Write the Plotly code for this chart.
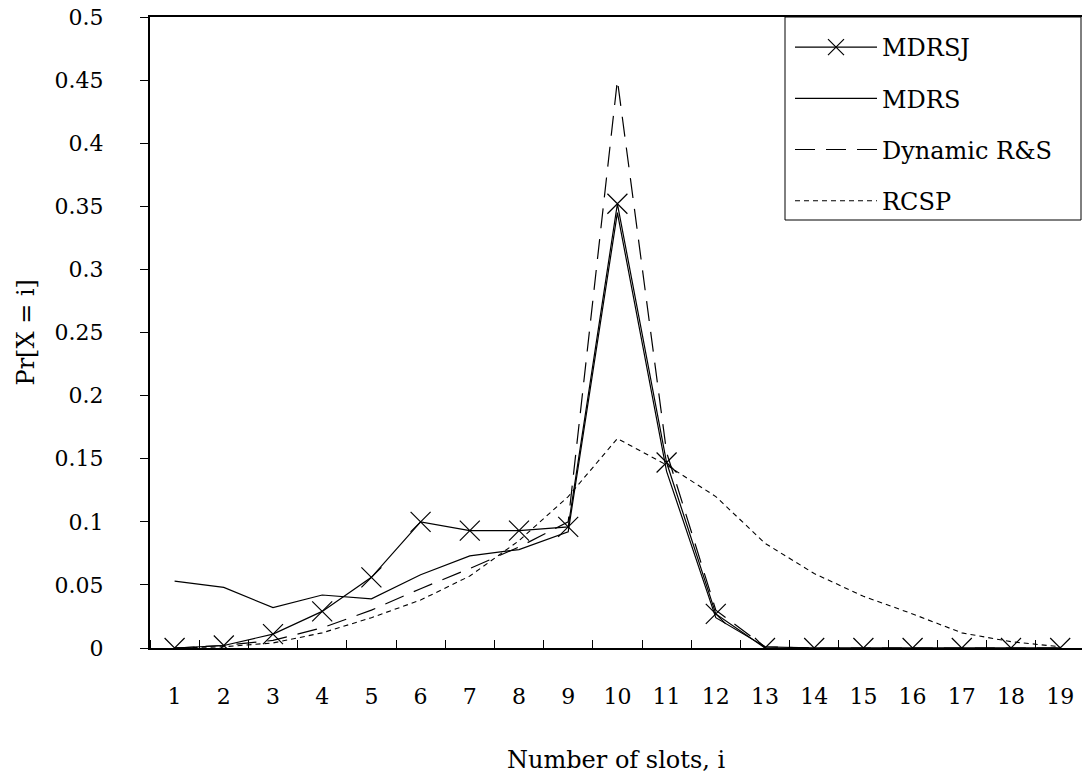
import plotly.graph_objects as go

slots = list(range(1, 20))
mdrsj = [0.0, 0.002, 0.011, 0.029, 0.056, 0.100, 0.093, 0.093, 0.096, 0.352, 0.147, 0.027, 0.0,
         0.0, 0.0, 0.0, 0.0, 0.0, 0.0]
mdrs = [0.053, 0.048, 0.032, 0.042, 0.039, 0.058, 0.073, 0.078, 0.092, 0.345, 0.140, 0.024, 0.001,
        0.0, 0.0, 0.0, 0.0, 0.0, 0.0]
dynamic = [0.0, 0.002, 0.006, 0.016, 0.030, 0.047, 0.063, 0.080, 0.100, 0.450, 0.155, 0.030, 0.001,
           0.0, 0.0, 0.0, 0.0, 0.0, 0.0]
rcsp = [0.0, 0.001, 0.004, 0.012, 0.024, 0.038, 0.057, 0.085, 0.120, 0.166, 0.145, 0.120, 0.083,
        0.059, 0.041, 0.027, 0.012, 0.005, 0.001]
ytick_vals = [0, 0.05, 0.1, 0.15, 0.2, 0.25, 0.3, 0.35, 0.4, 0.45, 0.5]
ytick_text = ["0", "0.05", "0.1", "0.15", "0.2", "0.25", "0.3", "0.35", "0.4", "0.45", "0.5"]

FONT = "DejaVu Serif"
FS = 24
TFS = 22

fig = go.Figure()
fig.add_trace(go.Scatter(x=slots, y=mdrsj, name="MDRSJ", mode="lines+markers",
                         line=dict(color="black", width=1.2),
                         marker=dict(symbol="x-thin-open", size=20,
                                     line=dict(color="black", width=1.2)),
                         legendgroup="a"))
fig.add_trace(go.Scatter(x=slots, y=mdrs, name="MDRS", mode="lines",
                         line=dict(color="black", width=1.2), legendgroup="b"))
fig.add_trace(go.Scatter(x=slots, y=dynamic, name="Dynamic R&S", mode="lines",
                         line=dict(color="black", width=1.2, dash="20px,11px"),
                         legendgroup="c"))
fig.add_trace(go.Scatter(x=slots, y=rcsp, name="RCSP", mode="lines",
                         line=dict(color="black", width=1.1, dash="5px,4px"),
                         legendgroup="d"))

PW, PH = 932, 631

fig.update_layout(
    width=1082, height=784,
    margin=dict(l=150, r=0, t=17, b=136),
    paper_bgcolor="white", plot_bgcolor="white",
    font=dict(family=FONT, size=FS, color="black"),
    showlegend=True,
    legend=dict(x=(790 - 150) / PW, y=1.0 - 8 / PH, xanchor="left", yanchor="top",
                bgcolor="rgba(0,0,0,0)", borderwidth=0,
                font=dict(family=FONT, size=FS, color="black"),
                tracegroupgap=17, traceorder="grouped", itemwidth=82),
    xaxis=dict(range=[0.5, 0.5 + PW / 49.2], tickmode="array", tickvals=slots,
               ticktext=[str(s) for s in slots], ticks="", showgrid=False,
               zeroline=False, showline=True, linecolor="black", linewidth=2,
               mirror=True, ticklabelstandoff=28, tickfont=dict(size=TFS),
               minor=dict(tick0=0.5, dtick=1, ticks="inside", ticklen=8,
                          tickcolor="black", tickwidth=1, showgrid=False)),
    yaxis=dict(range=[0, 0.5], tickmode="array", tickvals=ytick_vals, ticktext=ytick_text,
               ticks="outside", ticklen=8, tickcolor="black", showgrid=False,
               zeroline=False, showline=True, linecolor="black", linewidth=2,
               ticklabelstandoff=32, tickfont=dict(size=TFS)),
    shapes=[dict(type="rect", xref="paper", yref="paper",
                 x0=(785 - 150) / PW, x1=(1081 - 150) / PW,
                 y0=(648 - 220) / PH, y1=1.0,
                 line=dict(color="black", width=1), fillcolor="white", layer="above")],
    annotations=[
        dict(text="Number of slots, i", xref="paper", yref="paper", x=0.5, y=(648 - 760) / PH,
             xanchor="center", yanchor="middle", showarrow=False,
             font=dict(family=FONT, size=FS)),
        dict(text="Pr[X = i]", xref="paper", yref="paper", x=(25 - 150) / PW, y=0.5,
             xanchor="center", yanchor="middle", showarrow=False, textangle=-90,
             font=dict(family=FONT, size=FS)),
    ],
)

fig.write_html("out.html")
